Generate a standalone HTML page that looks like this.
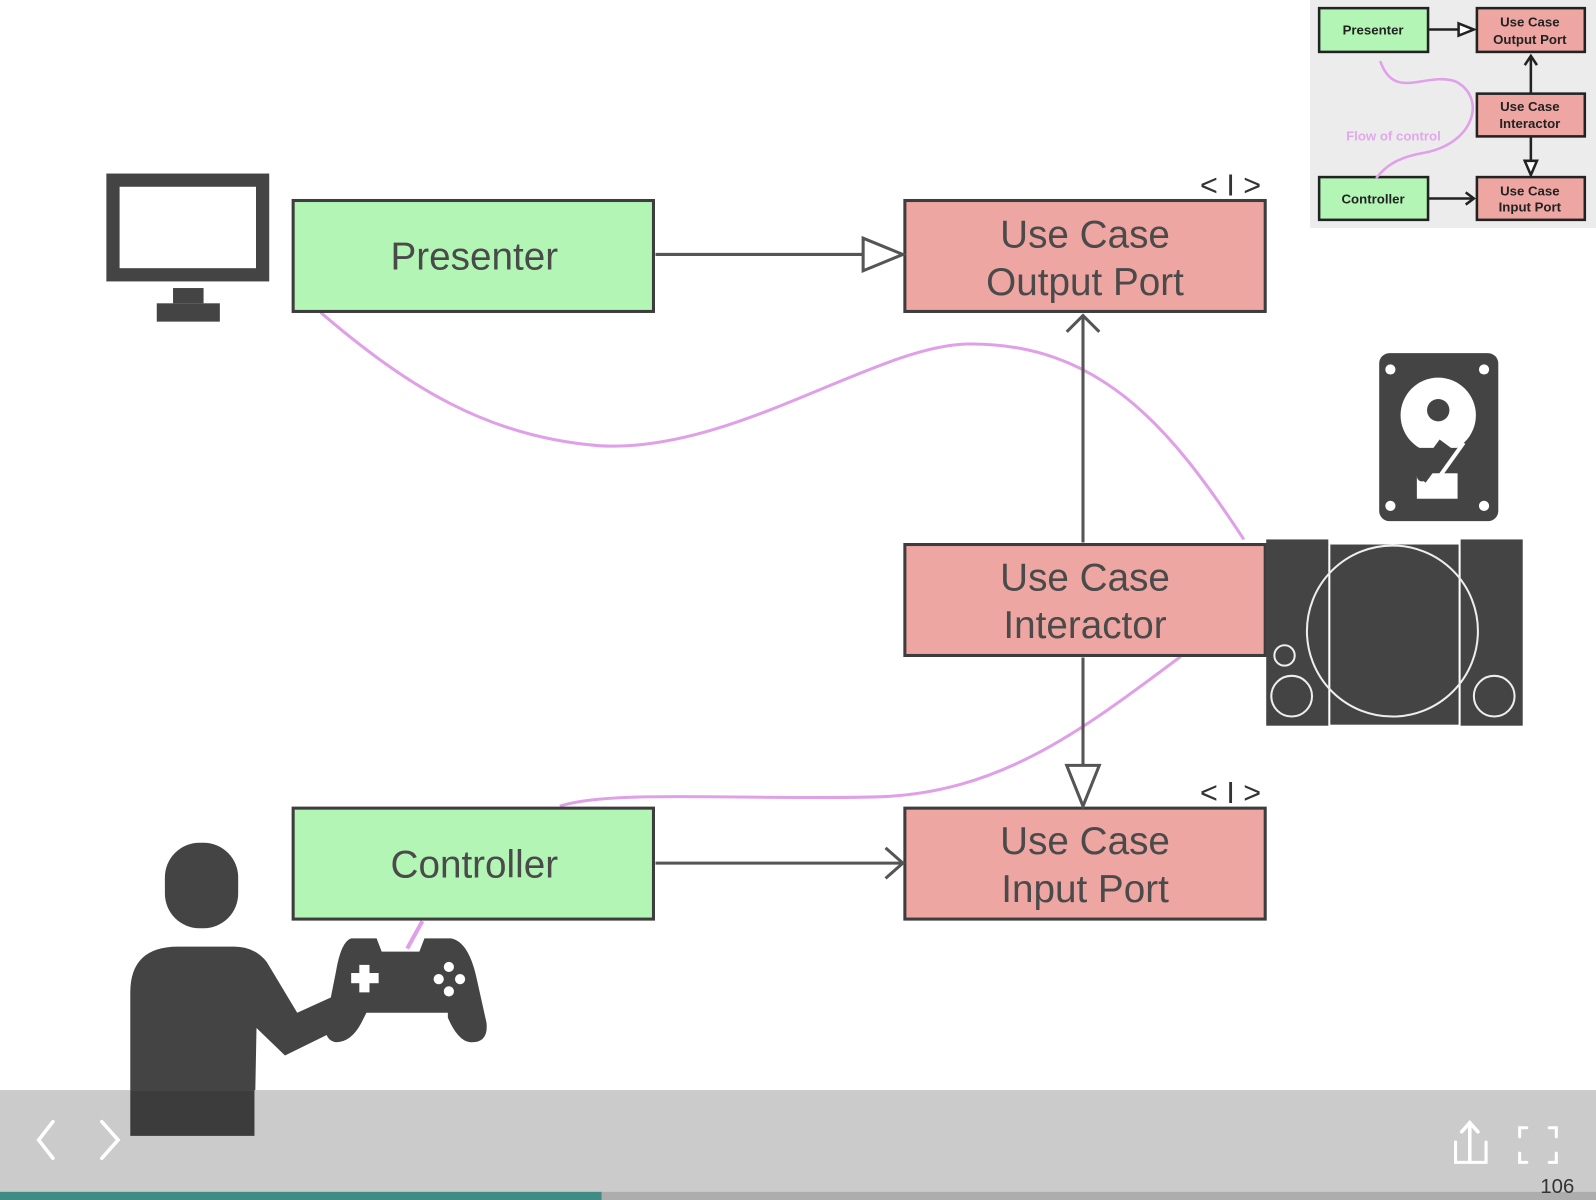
<!DOCTYPE html>
<html><head><meta charset="utf-8"><style>
html,body{margin:0;padding:0;background:#fff;overflow:hidden}
svg{display:block}
text{font-family:"Liberation Sans",sans-serif}
</style></head><body>
<svg width="1596" height="1200" viewBox="0 0 1568 1179" preserveAspectRatio="none" xmlns="http://www.w3.org/2000/svg">
<rect width="1568" height="1179" fill="#fff"/>
<!-- monitor -->
<rect x="111" y="177" width="147" height="93" fill="none" stroke="#444" stroke-width="13"/>
<rect x="170" y="283" width="30" height="15" fill="#444"/>
<rect x="154" y="298" width="62" height="18" fill="#444"/>
<!-- flow curves -->
<path d="M315 307 C400 380 480 430 590 438 C720 445 860 340 950 338 C1080 336 1150 420 1222 530" fill="none" stroke="#dfa0e8" stroke-width="3"/>
<path d="M1160 645 C1060 720 980 780 860 783 C720 786 600 776 550 792" fill="none" stroke="#dfa0e8" stroke-width="3"/>
<path d="M415 905 L400 932" stroke="#dfa0e8" stroke-width="4"/>
<!-- boxes -->
<g stroke="#3d3d3d" stroke-width="3">
<rect x="288" y="197" width="354" height="109" fill="#b3f5b5"/>
<rect x="889" y="197" width="354" height="109" fill="#eea6a2"/>
<rect x="889" y="535" width="354" height="109" fill="#eea6a2"/>
<rect x="288" y="794" width="354" height="109" fill="#b3f5b5"/>
<rect x="889" y="794" width="354" height="109" fill="#eea6a2"/>
</g>
<g font-size="38" fill="#4a4a4a" text-anchor="middle">
<text x="466" y="265">Presenter</text>
<text x="1066" y="243">Use Case</text><text x="1066" y="290">Output Port</text>
<text x="1066" y="580">Use Case</text><text x="1066" y="627">Interactor</text>
<text x="466" y="862">Controller</text>
<text x="1066" y="839">Use Case</text><text x="1066" y="886">Input Port</text>
</g>
<g font-size="30" fill="#333" text-anchor="middle">
<text x="1209" y="192">&lt; I &gt;</text>
<text x="1209" y="789">&lt; I &gt;</text>
</g>
<!-- connectors -->
<g stroke="#555" stroke-width="3" fill="none">
<path d="M644 250 L848 250"/>
<path d="M848 234 L887 250 L848 266 Z" fill="#fff"/>
<path d="M1064 533 L1064 310"/>
<path d="M1048 326 L1064 310 L1080 326"/>
<path d="M1064 646 L1064 752"/>
<path d="M1048 752 L1064 792 L1080 752 Z" fill="#fff"/>
<path d="M644 848 L887 848"/>
<path d="M870 833 L887 848 L870 863"/>
</g>
<!-- HDD -->
<rect x="1355" y="347" width="117" height="165" rx="10" fill="#444"/>
<circle cx="1366" cy="363" r="5" fill="#fff"/><circle cx="1458" cy="363" r="5" fill="#fff"/>
<circle cx="1366" cy="497" r="5" fill="#fff"/><circle cx="1458" cy="497" r="5" fill="#fff"/>
<circle cx="1413" cy="408" r="37" fill="#fff"/>
<circle cx="1413" cy="403" r="11" fill="#444"/>
<path d="M1392 440 L1432 440 L1420 460 L1400 470 L1400 490 L1393 490 Z" fill="#444"/>
<rect x="1392" y="465" width="40" height="25" fill="#fff"/>
<line x1="1420" y1="436" x2="1395" y2="470" stroke="#444" stroke-width="14"/>
<line x1="1438" y1="435" x2="1413" y2="470" stroke="#fff" stroke-width="4"/>
<line x1="1417" y1="440" x2="1397" y2="468" stroke="#444" stroke-width="10" stroke-linecap="round"/>
<!-- console -->
<rect x="1244" y="530" width="61" height="183" fill="#444"/>
<rect x="1307" y="535" width="126" height="177" fill="#444"/>
<rect x="1435" y="530" width="61" height="183" fill="#444"/>
<g fill="none" stroke="#eee" stroke-width="2">
<circle cx="1368" cy="620" r="84"/>
<circle cx="1262" cy="644" r="10"/>
<circle cx="1269" cy="684" r="20"/>
<circle cx="1468" cy="684" r="20"/>
</g>
<!-- person -->
<rect x="162" y="828" width="72" height="84" rx="34" fill="#444"/>
<path d="M128 975 Q128 930 175 930 L230 930 Q250 930 262 945 L292 995 L325 980 L335 1010 L280 1037 L252 1010 L250 1115 L160 1115 L160 1105 L128 1105 Z" fill="#444"/>
<!-- gamepad -->
<path d="M345 922 L370 922 L375 935 L412 935 L417 922 L443 922 Q460 925 468 960 L478 1005 Q480 1025 462 1024 Q450 1023 440 1000 L440 995 L360 995 L355 1005 Q345 1024 330 1024 Q318 1022 320 1005 L330 955 Q335 925 345 922 Z" fill="#444"/>
<rect x="353" y="948" width="10" height="27" fill="#fff"/><rect x="345" y="956" width="27" height="10" fill="#fff"/>
<g fill="#fff"><circle cx="441" cy="950" r="5"/><circle cx="431" cy="962" r="5"/><circle cx="452" cy="962" r="5"/><circle cx="441" cy="974" r="5"/></g>
<!-- inset -->
<rect x="1287" y="0" width="281" height="224" fill="#ececec"/>
<g stroke="#222" stroke-width="2.5">
<rect x="1296" y="8" width="107" height="43" fill="#b3f5b5"/>
<rect x="1451" y="8" width="106" height="43" fill="#eea6a2"/>
<rect x="1451" y="92" width="106" height="42" fill="#eea6a2"/>
<rect x="1296" y="174" width="107" height="42" fill="#b3f5b5"/>
<rect x="1451" y="174" width="106" height="42" fill="#eea6a2"/>
</g>
<g stroke="#222" stroke-width="2.5" fill="none">
<path d="M1404 29 L1433 29"/><path d="M1433 23 L1448 29 L1433 35 Z" fill="#fff"/>
<path d="M1504 91 L1504 55"/><path d="M1498 64 L1504 55 L1510 64"/>
<path d="M1504 135 L1504 158"/><path d="M1498 158 L1504 172 L1510 158 Z" fill="#fff"/>
<path d="M1404 195 L1448 195"/><path d="M1440 189 L1448 195 L1440 201"/>
</g>
<path d="M1356 60 C1370 100 1400 70 1430 80 C1460 95 1450 140 1400 150 C1370 155 1360 165 1352 175" fill="none" stroke="#e0a0ea" stroke-width="2.5"/>
<g font-size="13" font-weight="bold" fill="#222" text-anchor="middle">
<text x="1349" y="34">Presenter</text>
<text x="1503" y="26">Use Case</text><text x="1503" y="43">Output Port</text>
<text x="1503" y="109">Use Case</text><text x="1503" y="126">Interactor</text>
<text x="1349" y="200">Controller</text>
<text x="1503" y="192">Use Case</text><text x="1503" y="208">Input Port</text>
</g>
<text x="1369" y="138" font-size="13" font-weight="bold" fill="#e2a8ec" text-anchor="middle">Flow of control</text>
<!-- bottom bar -->
<rect x="0" y="1071" width="1568" height="108" fill="#cbcbcb"/>
<rect x="128" y="1071" width="122" height="45" fill="#3c3c3c"/>
<rect x="0" y="1171" width="1568" height="8" fill="#adadad"/>
<rect x="0" y="1171" width="591" height="8" fill="#3e8c83"/>
<g stroke="#fff" stroke-width="3.5" fill="none" stroke-linecap="round">
<path d="M52 1102 L38 1120 L52 1138"/>
<path d="M100 1102 L116 1120 L100 1138"/>
<path d="M1444 1103 L1444 1140"/><path d="M1436 1112 L1444 1103 L1452 1112"/>
<path d="M1430 1122 L1430 1142 L1460 1142 L1460 1122" stroke-width="3"/>
<path d="M1493 1117 L1493 1108 L1500 1108 M1522 1108 L1529 1108 L1529 1117 M1529 1133 L1529 1142 L1522 1142 M1500 1142 L1493 1142 L1493 1133" stroke-width="3"/>
</g>
<text x="1530" y="1172" font-size="20" fill="#333" text-anchor="middle">106</text>
</svg>
</body></html>
